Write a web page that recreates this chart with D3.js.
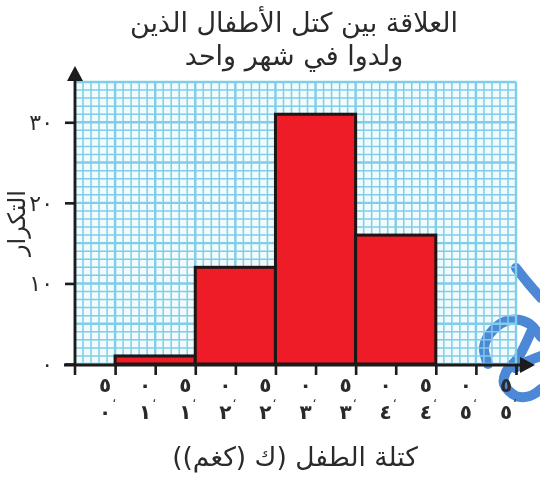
<!DOCTYPE html>
<html><head><meta charset="utf-8">
<script src="https://cdn.jsdelivr.net/npm/d3@7"></script>
<style>html,body{margin:0;padding:0;background:#fff}svg{display:block}text{font-family:"DejaVu Sans","Noto Sans",sans-serif;fill:#2a2a2a}</style>
</head><body><svg id="c" width="540" height="482"></svg>
<script>
const titleLines = ["العلاقة بين كتل الأطفال الذين", "ولدوا في شهر واحد"];
const xTitle = "كتلة الطفل (ك (كغم))";
const yTitle = "التكرار";
const binStart = [0.5, 1.5, 2.5, 3.5];
const binEnd = [1.5, 2.5, 3.5, 4.5];
const freq = [1, 12, 31, 16];
const xTicks = [0.5, 1, 1.5, 2, 2.5, 3, 3.5, 4, 4.5, 5, 5.5];
const yTicks = [0, 10, 20, 30];
const arabicDigits = "٠١٢٣٤٥٦٧٨٩";
const toAr = n => String(n).replace(/\d/g, d => arabicDigits[+d]);

const svg = d3.select("#c");
const x = d3.scaleLinear().domain([0, 5.5]).range([75, 516]);
const y = d3.scaleLinear().domain([0, 35]).range([364, 82]);
const defs = svg.append("defs");
defs.append("filter").attr("id", "soft").append("feGaussianBlur").attr("stdDeviation", 0.45);
const root = svg.append("g").attr("filter", "url(#soft)");

// plot background
root.append("rect").attr("x", x(0)).attr("y", y(35)).attr("width", x(5.5) - x(0)).attr("height", y(0) - y(35)).attr("fill", "#f1fbfe");

// decorative corner watermark
const wm = d3.line().curve(d3.curveCatmullRom);
const wmStrokes = [
  [[516, 268], [528, 283], [541, 298]],
  [[488, 364], [484, 347], [493, 330], [510, 320], [528, 323], [541, 337]],
  [[531, 332], [518, 358], [506, 372], [504, 384], [516, 396], [530, 396], [541, 389]],
  [[541, 356], [526, 362], [515, 368]]
];
root.append("g").selectAll("path").data(wmStrokes).join("path")
  .attr("d", wm).attr("fill", "none").attr("stroke", "#4d88d6").attr("stroke-width", 10).attr("stroke-linecap", "round");

// grid
const gx = d3.range(0, 56).map(i => i / 10);
const gy = d3.range(0, 36);
const grid = root.append("g");
grid.selectAll(".v").data(gx).join("line").attr("class", "v")
  .attr("x1", d => x(d)).attr("x2", d => x(d)).attr("y1", y(35)).attr("y2", y(0))
  .attr("stroke", "#7fcde8").attr("stroke-width", (d, i) => i % 5 === 0 ? 2.4 : 1.5);
grid.selectAll(".h").data(gy).join("line").attr("class", "h")
  .attr("x1", x(0)).attr("x2", x(5.5)).attr("y1", d => y(d)).attr("y2", d => y(d))
  .attr("stroke", "#7fcde8").attr("stroke-width", (d, i) => i % 5 === 0 ? 2.4 : 1.5);

// bars
root.append("g").selectAll("rect").data(freq).join("rect")
  .attr("x", (d, i) => x(binStart[i]))
  .attr("width", (d, i) => x(binEnd[i]) - x(binStart[i]))
  .attr("y", d => y(d))
  .attr("height", d => y(0) - y(d))
  .attr("fill", "#ee1c25").attr("stroke", "#1a1414").attr("stroke-width", 3);

// x axis
const xAxis = root.append("g").attr("transform", `translate(0,${y(0) + 1})`)
  .call(d3.axisBottom(x).tickValues(xTicks).tickSize(10).tickFormat(""));
xAxis.select(".domain").remove();
xAxis.selectAll("line").attr("stroke", "#1a1a1a").attr("stroke-width", 2.6);
root.append("line").attr("x1", 64).attr("x2", 524).attr("y1", y(0) + 1).attr("y2", y(0) + 1).attr("stroke", "#1a1a1a").attr("stroke-width", 2.8);
root.append("path").attr("d", d3.line()([[520, 357], [535, 365], [520, 373]]) + "Z").attr("fill", "#1a1a1a");
root.append("line").attr("x1", x(0)).attr("x2", x(0)).attr("y1", y(0) + 1).attr("y2", y(0) + 11).attr("stroke", "#1a1a1a").attr("stroke-width", 2.6);

// stacked x labels
const xl = root.append("g").selectAll("g").data(xTicks).join("g").attr("transform", d => `translate(${x(d)},0)`);
xl.append("text").attr("x", -10).attr("y", 392).attr("text-anchor", "middle").attr("font-size", 20).attr("font-weight", "bold")
  .text(d => toAr(Math.round((d % 1) * 10)));
xl.append("text").attr("x", -1).attr("y", 402).attr("text-anchor", "middle").attr("font-size", 12).text("،");
xl.append("text").attr("x", -10).attr("y", 419).attr("text-anchor", "middle").attr("font-size", 20).attr("font-weight", "bold")
  .text(d => toAr(Math.floor(d)));

// y axis
const yAxis = root.append("g").attr("transform", `translate(${x(0)},0)`)
  .call(d3.axisLeft(y).tickValues(yTicks).tickSize(10).tickFormat(""));
yAxis.select(".domain").remove();
yAxis.selectAll("line").attr("stroke", "#1a1a1a").attr("stroke-width", 2.6);
root.append("line").attr("x1", x(0)).attr("x2", x(0)).attr("y1", 76).attr("y2", y(0) + 2).attr("stroke", "#1a1a1a").attr("stroke-width", 2.8);
root.append("path").attr("d", d3.line()([[67, 81], [75, 66], [83, 81]]) + "Z").attr("fill", "#1a1a1a");
root.append("g").selectAll("text").data(yTicks).join("text")
  .attr("x", 53).attr("y", d => y(d) + 8).attr("text-anchor", "end").attr("font-size", 22)
  .text(d => toAr(d));

// titles
root.append("g").selectAll("text").data(titleLines).join("text")
  .attr("x", 294).attr("y", (d, i) => 32 + i * 33).attr("text-anchor", "middle")
  .attr("font-size", 27).attr("direction", "rtl").text(d => d);
root.append("text").attr("x", 295).attr("y", 466).attr("text-anchor", "middle").attr("font-size", 26.5).attr("direction", "rtl").text(xTitle);
root.append("text").attr("transform", "translate(25,223) rotate(-90)").attr("text-anchor", "middle").attr("font-size", 24).attr("direction", "rtl").text(yTitle);
</script></body></html>
